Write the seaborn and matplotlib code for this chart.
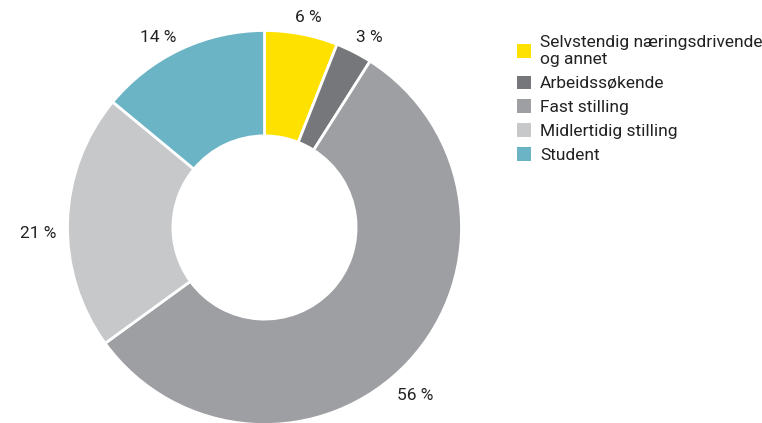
import numpy as np
import matplotlib
matplotlib.use("Agg")
import matplotlib.pyplot as plt
import seaborn as sns

categories = ["Selvstendig næringsdrivende\nog annet", "Arbeidssøkende", "Fast stilling",
              "Midlertidig stilling", "Student"]
values = [6, 3, 56, 21, 14]
value_labels = ["6 %", "3 %", "56 %", "21 %", "14 %"]
colors = ["#FFE100", "#76777A", "#9E9FA3", "#C7C8CA", "#6AB4C6"]

sns.set_theme(style="white")
plt.rcParams['font.family'] = ['Roboto', 'DejaVu Sans']

fig = plt.figure(figsize=(7.62, 4.23), dpi=100)
R = 197
cx, cy = 264.5, 227.5
ax = fig.add_axes([(cx - R) / 762, (423 - cy - R) / 423, 2 * R / 762, 2 * R / 423])

wedges, _ = ax.pie(values, colors=colors, startangle=90, counterclock=False,
                   radius=1.0, wedgeprops=dict(width=0.535, edgecolor="white", linewidth=2))

# value labels outside the ring
total = sum(values)
cum = 0
offsets = {0: 1, 1: 2, 2: 5, 3: -3.2, 4: -4}
radii = {0: 1.09, 1: 1.10, 2: 1.145, 3: 1.15, 4: 1.105}
for i, v in enumerate(values):
    mid = (cum + v / 2) / total * 360
    cum += v
    ang = np.deg2rad(mid + offsets[i])
    r = radii[i]
    x, y = r * np.sin(ang), r * np.cos(ang)
    ax.text(x, y, value_labels[i], ha="center", va="center", fontsize=12.5, color="#222222")

ax.set_xlim(-1, 1)
ax.set_ylim(-1, 1)
ax.set_aspect("equal")
ax.axis("off")

leg = fig.legend(wedges, categories, loc="upper left", bbox_to_anchor=(517 / 762, 1 - 35 / 423),
                 frameon=False, fontsize=12.5, handlelength=0.82, handleheight=0.82,
                 handletextpad=0.5, labelspacing=0.47, borderaxespad=0, borderpad=0)
for t in leg.get_texts():
    t.set_linespacing(1.2)
    t.set_color("#222222")
for h in leg.legend_handles:
    h.set_edgecolor("none")
    h.set_linewidth(0)

fig.savefig("out.png", dpi=100)
